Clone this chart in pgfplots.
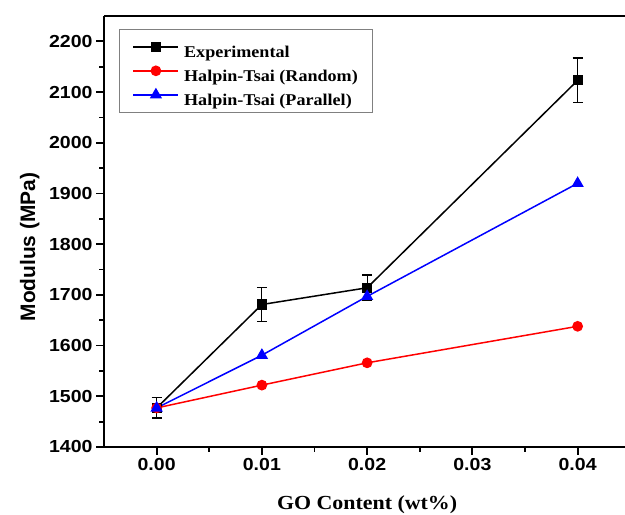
\documentclass[border=0pt]{standalone}
\usepackage{pgfplots}
\pgfplotsset{compat=1.18}
\usepackage{fontspec}
\setmainfont{Liberation Sans}
\newfontfamily\timesfont[FakeStretch=1.1]{Liberation Serif}
\newfontfamily\tickfont[FakeStretch=1.12]{Liberation Sans}
\begin{document}
\begin{tikzpicture}[x=1bp,y=1bp]
\path[use as bounding box] (0,0) rectangle (625,515);
\begin{axis}[
  at={(104bp,68bp)}, anchor=south west,
  scale only axis,
  width=526.25bp, height=431bp,
  xmin=-0.005, xmax=0.045,
  ymin=1400, ymax=2250,
  axis x line*=box, axis y line*=left,
  xtick pos=lower, ytick pos=left,
  axis line style={line width=2.5bp, black},
  xtick={0,0.01,0.02,0.03,0.04},
  ytick={1400,1500,...,2200},
  minor x tick num=1, minor y tick num=1,
  tick align=outside,
  major tick length=8bp, minor tick length=5bp,
  every tick/.style={line width=1.8bp, black},
  scaled x ticks=false, scaled y ticks=false,
  /pgf/number format/assume math mode=true,
  xticklabel style={font=\tickfont\fontsize{17.5}{19}\selectfont\bfseries,
    /pgf/number format/.cd, fixed, fixed zerofill, precision=2},
  yticklabel style={font=\tickfont\fontsize{17.5}{19}\selectfont\bfseries,
    /pgf/number format/.cd, 1000 sep={}},
  xlabel={GO Content (wt\%)},
  ylabel={Modulus (MPa)},
  xlabel style={font=\timesfont\fontsize{20}{22}\selectfont\bfseries,
    at={(axis description cs:0.5,-0.1346)}, anchor=center},
  ylabel style={font=\fontsize{21}{23}\selectfont\bfseries,
    at={(axis description cs:-0.141,0.464)}, anchor=center, rotate=0},
  legend style={at={(axis description cs:0.029,0.97)}, anchor=north west,
    draw=gray, line width=0.8bp, font=\timesfont\fontsize{16.5}{18}\selectfont\bfseries,
    inner xsep=13bp, inner ysep=6.5bp, row sep=2bp, column sep=3bp,
    nodes={text height=22bp, text depth=0bp, inner ysep=0bp}},
  legend cell align=left,
  legend image code/.code={%
    \draw[line width=1.5bp, mark repeat=2,mark phase=2] plot coordinates {(0bp,0bp) (22.5bp,0bp) (45bp,0bp)};},
  clip=false,
]
\addplot[black, line width=1.5bp, mark=square*, mark size=4.3bp,
  mark options={solid},
  error bars/.cd, y dir=both, y explicit,
  error bar style={line width=1.2bp, black},
  error mark options={rotate=90, mark size=5bp, line width=1.2bp, black}]
  coordinates {
  (0, 1477) +- (0, 20)
  (0.01, 1681) +- (0, 34)
  (0.02, 1714) +- (0, 25)
  (0.04, 2123) +- (0, 44)
};
\addlegendentry{Experimental}
\addplot[red, line width=1.5bp, mark=*, mark size=4.6bp, mark options={solid, fill=red}]
  coordinates {(0,1477) (0.01,1522) (0.02,1566) (0.04,1638)};
\addlegendentry{Halpin-Tsai (Random)}
\addplot[blue, line width=1.5bp, mark=triangle*, mark size=5.6bp, mark options={solid, fill=blue}]
  coordinates {(0,1477) (0.01,1581) (0.02,1697) (0.04,1920)};
\addlegendentry{Halpin-Tsai (Parallel)}
\end{axis}
\end{tikzpicture}
\end{document}
